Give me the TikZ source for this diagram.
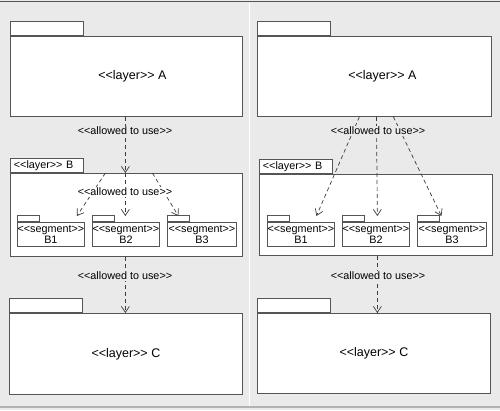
\documentclass[tikz,border=0pt]{standalone}
\usepackage{fontspec}
\setmainfont{Liberation Sans}
\usetikzlibrary{calc, positioning, arrows.meta}
\definecolor{panel}{RGB}{234, 234, 234}
\definecolor{boxline}{RGB}{85, 85, 85}
\definecolor{arrowline}{RGB}{60, 60, 60}
\newcommand{\stereo}[1]{<\kern0pt<#1>\kern0pt>}

\begin{document}
\begin{tikzpicture}[x=1pt, y=-1pt, >={Straight Barb[length=6pt, width=8pt]},
  font=\fontsize{10.8}{11}\selectfont,
  pkg/.style={draw=boxline, fill=white, line width=0.8pt, inner sep=0pt, anchor=north west},
  layerbody/.style={pkg, font=\fontsize{12.5}{13}\selectfont},
  layertab/.style={pkg, anchor=south west, text width=66pt, inner xsep=3.5pt,
    minimum height=14pt, align=left},
  segbody/.style={pkg, minimum width=67pt, minimum height=24pt, align=center,
    font=\fontsize{10.8}{10.5}\selectfont},
  segtab/.style={pkg, anchor=south west, minimum width=22pt, minimum height=6pt},
  uses/.style={->, draw=arrowline, line width=0.7pt, dash pattern=on 4pt off 3pt},
  usenote/.style={inner sep=1pt}]
  \useasboundingbox (0, 0) rectangle (500, 410);
  \fill[panel] (0, 0) rectangle (500, 410);
  \draw[boxline, line width=1.5pt] (0, 1.5) -- (500, 1.5);
  \draw[black!30, line width=1.2pt] (0, 407) -- (500, 407);
  \draw[white, line width=1.5pt] (249.5, 2.5) -- (249.5, 406);

  % left panel: layer B uses its segments
  \node[layerbody, minimum width=232pt, minimum height=80pt,
    label={[font=\fontsize{12.5}{13}\selectfont, xshift=6pt]center:\stereo{layer} A}] (layerA) at (10, 36) {};
  \node[layertab] (tabA) at (layerA.north west) {};
  \node[layerbody, minimum width=232pt, minimum height=83pt] (layerB) at (10, 173) {};
  \node[layertab] (tabB) at (layerB.north west) {\stereo{layer} B};
  \node[layerbody, minimum width=233pt, minimum height=81pt] (layerC) at (9, 313) {\stereo{layer} C};
  \node[layertab] (tabC) at (layerC.north west) {};

  \node[segbody] (segB1) at (17, 222) {\stereo{segment}\\B1};
  \node[segbody] (segB2) at (92, 222) {\stereo{segment}\\B2};
  \node[segbody, minimum width=69pt] (segB3) at (167, 222) {\stereo{segment}\\B3};
  \foreach \s in {segB1, segB2, segB3}
    \node[segtab] at (\s.north west) {};

  \draw[uses] ([xshift=-1pt]layerA.south) -- ([xshift=-1pt]layerB.north);
  \draw[uses] ([xshift=-21pt]layerB.north) -- ([xshift=26pt, yshift=6pt]segB1.north);
  \draw[uses] ([xshift=-1pt]layerB.north) -- ([xshift=-0.5pt, yshift=6pt]segB2.north);
  \draw[uses] ([xshift=26pt]layerB.north) -- ([xshift=-23.5pt, yshift=6pt]segB3.north);
  \draw[uses] ([xshift=-1pt]layerB.south) -- ([xshift=-0.5pt]layerC.north);
  \node[usenote, fill=panel] (useAB) at (125, 131) {\stereo{allowed to use}};
  \node[usenote, fill=white] (useB) at (125, 192) {\stereo{allowed to use}};
  \node[usenote, fill=panel] (useBC) at (125, 276) {\stereo{allowed to use}};

  % right panel: layer A uses the segments directly
  \node[layerbody, minimum width=234pt, minimum height=80pt,
    label={[font=\fontsize{12.5}{13}\selectfont, xshift=8pt]center:\stereo{layer} A}] (rlayerA) at (257, 36) {};
  \node[layertab] (rtabA) at (rlayerA.north west) {};
  \node[layerbody, minimum width=233pt, minimum height=81pt] (rlayerB) at (259, 174) {};
  \node[layertab] (rtabB) at (rlayerB.north west) {\stereo{layer} B};
  \node[layerbody, minimum width=233pt, minimum height=80pt] (rlayerC) at (257, 313) {\stereo{layer} C};
  \node[layertab] (rtabC) at (rlayerC.north west) {};

  \node[segbody] (rsegB1) at (267, 222) {\stereo{segment}\\B1};
  \node[segbody] (rsegB2) at (342, 222) {\stereo{segment}\\B2};
  \node[segbody, minimum width=69pt] (rsegB3) at (417, 222) {\stereo{segment}\\B3};
  \foreach \s in {rsegB1, rsegB2, rsegB3}
    \node[segtab] at (\s.north west) {};

  \draw[uses] ([xshift=-15pt]rlayerA.south) -- ([xshift=15.5pt, yshift=6pt]rsegB1.north);
  \draw[uses] ([xshift=2pt]rlayerA.south) -- ([xshift=1.5pt, yshift=6pt]rsegB2.north);
  \draw[uses] ([xshift=19pt]rlayerA.south) -- ([xshift=-10.5pt, yshift=6pt]rsegB3.north);
  \draw[uses] ([xshift=1.5pt]rlayerB.south) -- ([xshift=3.5pt]rlayerC.north);
  \node[usenote, fill=panel] (ruseA) at (378, 131) {\stereo{allowed to use}};
  \node[usenote, fill=panel] (ruseBC) at (378, 276) {\stereo{allowed to use}};
\end{tikzpicture}
\end{document}
